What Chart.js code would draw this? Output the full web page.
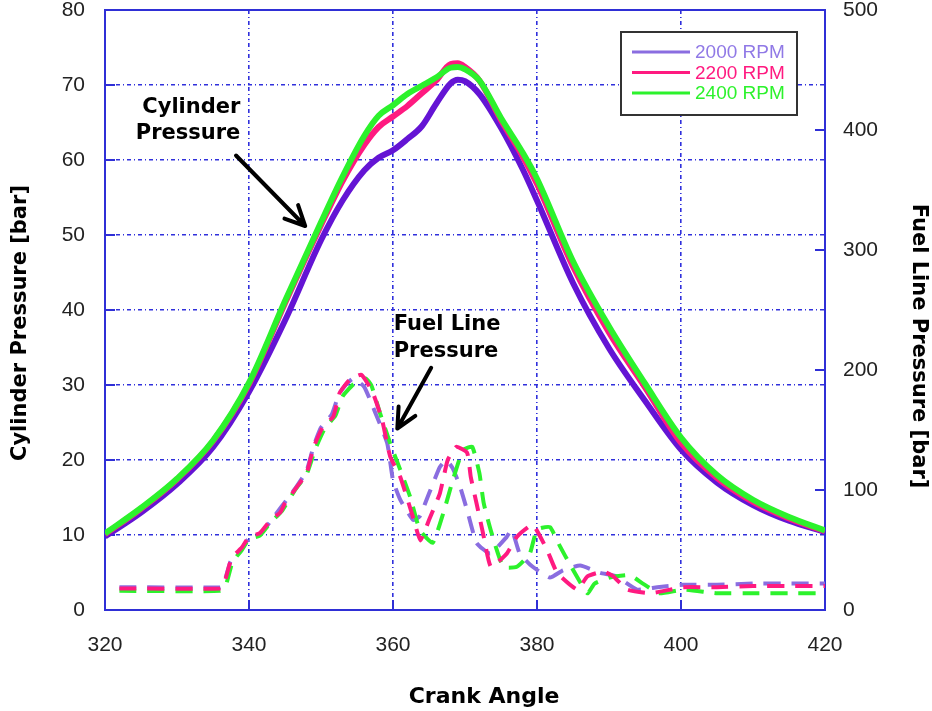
<!DOCTYPE html>
<html>
<head>
<meta charset="utf-8">
<script src="https://cdn.jsdelivr.net/npm/chart.js@4.4.0/dist/chart.umd.min.js"></script>
<style>
html, body { margin: 0; padding: 0; background: #fff; }
#chart { display: block; }
</style>
</head>
<body>
<canvas id="chart" width="932" height="711"></canvas>
<script>
// series names
const rpmLabels = ['2000 RPM', '2200 RPM', '2400 RPM'];

// cylinder pressure [bar] vs crank angle
const cylAngles = [320, 325, 330, 335, 340, 345, 350, 353, 356, 358, 360, 362, 364, 366, 368, 369, 370, 372, 375, 378, 380, 385, 390, 395, 400, 405, 410, 415, 420];
const cyl2000 = [9.8, 13.0, 16.8, 21.7, 29.1, 38.6, 49.3, 54.6, 58.6, 60.3, 61.3, 62.8, 64.5, 67.5, 70.2, 70.7, 70.5, 68.8, 64.3, 58.8, 54.6, 43.6, 34.9, 27.9, 21.4, 17.0, 14.0, 11.9, 10.4];
const cyl2200 = [10.1, 13.5, 17.4, 22.5, 30.1, 40.9, 51.3, 57.2, 62.0, 64.4, 65.8, 67.2, 68.9, 70.6, 72.8, 72.9, 72.4, 70.6, 65.3, 60.5, 56.8, 45.8, 37.0, 29.7, 22.3, 17.6, 14.4, 12.2, 10.5];
const cyl2400 = [10.2, 13.6, 17.5, 22.6, 30.3, 41.2, 51.7, 57.8, 63.2, 65.9, 67.3, 68.8, 69.9, 71.0, 72.3, 72.4, 72.1, 70.6, 65.6, 61.0, 57.5, 46.5, 37.8, 30.2, 23.0, 18.0, 14.7, 12.4, 10.6];

// fuel line pressure [bar] vs crank angle
const fuelAngles2000 = [322, 336, 336.6, 337.4, 338, 339, 340, 341.5, 343, 344.5, 346.5, 348, 349, 350, 351.5, 352.5, 353.5, 354.5, 356, 357.5, 359.2, 360, 361, 362.8, 363.7, 365, 366.5, 367.4, 368.3, 369.3, 370.3, 371.6, 373.5, 375.8, 376.5, 377.6, 379.4, 381.8, 383.6, 386, 388.8, 391, 393.9, 396.7, 400.3, 405, 410, 415, 420];
const fuel2000 = [19, 19, 24, 40, 45, 51, 60, 63, 74, 86, 102, 116, 137, 152, 163, 180, 188, 193, 186, 165, 139, 108, 92, 75, 78, 97, 119, 125, 118, 103, 83, 56, 47, 61, 67, 47, 36, 27, 33, 37, 31, 28, 17, 19, 21, 21, 22, 22, 22];

const fuelAngles2200 = [322, 336, 336.6, 337.4, 338, 339, 340, 341.5, 343, 344.3, 345, 346.7, 348, 349, 350.3, 351.7, 352.6, 354, 355.6, 357.2, 358.5, 359.6, 361, 362.8, 363.8, 365, 366.5, 367.6, 368.8, 370.3, 370.8, 371.6, 372.5, 373.6, 375.8, 377.2, 379.4, 381.4, 382.8, 385.6, 387, 389.2, 390.6, 392.5, 395.7, 398.5, 400.3, 405, 410, 415, 420];
const fuel2200 = [18, 18, 23, 40, 46, 52, 61, 64, 75, 81, 89, 103, 114, 136, 153, 161, 181, 192, 196, 181, 158, 128, 111, 77, 58, 75, 97, 125, 136, 131, 111, 89, 64, 36, 47, 61, 71, 50, 31, 17, 28, 32, 28, 17, 14, 17, 19, 19, 20, 20, 20];

const fuelAngles2400 = [322, 336, 336.8, 337.6, 338.2, 339, 340, 341.5, 343, 344.5, 346.5, 348, 349.2, 350.5, 352, 353, 354.5, 356.2, 357, 358.2, 359.6, 361, 362.4, 363.7, 365.5, 367, 368.3, 369.7, 371, 372, 372.6, 373.6, 375.3, 377.2, 379, 380, 381.8, 383.2, 384.2, 387, 388, 390.1, 392.9, 394.7, 397, 400.3, 405, 410, 415, 420];
const fuel2400 = [16, 16, 21, 38, 44, 50, 59, 62, 73, 82, 101, 113, 134, 151, 162, 178, 188, 193, 187, 164, 139, 117, 94, 67, 56, 81, 108, 133, 136, 114, 89, 66, 36, 36, 47, 67, 69, 53, 42, 14, 22, 27, 29, 22, 14, 17, 14, 14, 14, 14];

// colours
const cylColors = ['#6414d4', '#ff1a80', '#2cf22c'];
const fuelColors = ['#8a6de0', '#ff1a80', '#2cf22c'];
const gridBlue = '#3030dc';
const frameBlue = '#2f2fd6';

const toXY = (xs, ys) => xs.map((x, i) => ({ x: x, y: ys[i] }));

function text(ctx, str, x, y, font, color, align, rot) {
    ctx.save();
    ctx.translate(x, y);
    if (rot) ctx.rotate(rot);
    ctx.font = font;
    ctx.fillStyle = color;
    ctx.textAlign = align || 'center';
    ctx.textBaseline = 'middle';
    ctx.fillText(str, 0, 0);
    ctx.restore();
}

function arrow(ctx, x1, y1, x2, y2) {
    const ang = Math.atan2(y2 - y1, x2 - x1);
    const len = 22;
    ctx.save();
    ctx.strokeStyle = '#000';
    ctx.lineWidth = 4;
    ctx.lineCap = 'round';
    ctx.lineJoin = 'round';
    ctx.beginPath();
    ctx.moveTo(x1, y1);
    ctx.lineTo(x2, y2);
    ctx.moveTo(x2 - len * Math.cos(ang - 0.45), y2 - len * Math.sin(ang - 0.45));
    ctx.lineTo(x2, y2);
    ctx.lineTo(x2 - len * Math.cos(ang + 0.45), y2 - len * Math.sin(ang + 0.45));
    ctx.stroke();
    ctx.restore();
}

const titleFont = 'bold 21px "DejaVu Sans"';

const overlay = {
    id: 'overlay',
    beforeDatasetsDraw(chart) {
        const { ctx, chartArea: a, scales } = chart;
        ctx.save();
        ctx.strokeStyle = frameBlue;
        ctx.lineWidth = 2;
        ctx.beginPath();
        // inward tick marks
        for (let v = 10; v < 80; v += 10) {
            const y = scales.y.getPixelForValue(v);
            ctx.moveTo(a.left, y); ctx.lineTo(a.left + 10, y);
        }
        for (let v = 100; v < 500; v += 100) {
            const y = scales.y1.getPixelForValue(v);
            ctx.moveTo(a.right, y); ctx.lineTo(a.right - 10, y);
        }
        for (let v = 340; v < 420; v += 20) {
            const x = scales.x.getPixelForValue(v);
            ctx.moveTo(x, a.bottom); ctx.lineTo(x, a.bottom - 10);
        }
        ctx.stroke();
        ctx.strokeRect(a.left, a.top, a.width, a.height);
        ctx.restore();
    },
    afterDraw(chart) {
        const { ctx, chartArea: a, scales } = chart;
        const sx = v => scales.x.getPixelForValue(v);
        const sy = v => scales.y.getPixelForValue(v);

        // axis titles
        text(ctx, 'Cylinder Pressure [bar]', 21, 323, titleFont, '#000', 'center', -Math.PI / 2);
        text(ctx, 'Fuel Line Pressure [bar]', 918, 346, titleFont, '#000', 'center', Math.PI / 2);
        text(ctx, 'Crank Angle', 484, 697, 'bold 22px "DejaVu Sans"', '#000', 'center');

        // annotations
        text(ctx, 'Cylinder', sx(338.8), sy(67.0), titleFont, '#000', 'right');
        text(ctx, 'Pressure', sx(338.8), sy(63.5), titleFont, '#000', 'right');
        arrow(ctx, sx(338.2), sy(60.6), sx(347.8), sy(51.2));

        text(ctx, 'Fuel Line', sx(360.1), sy(38.0), titleFont, '#000', 'left');
        text(ctx, 'Pressure', sx(360.1), sy(34.5), titleFont, '#000', 'left');
        arrow(ctx, sx(365.3), sy(32.3), sx(360.6), sy(24.2));

        // legend box
        const lx = a.right - 204, ly = a.top + 22;
        ctx.save();
        ctx.fillStyle = '#fff';
        ctx.fillRect(lx, ly, 176, 83);
        ctx.strokeStyle = '#333';
        ctx.lineWidth = 2;
        ctx.strokeRect(lx, ly, 176, 83);
        rpmLabels.forEach((lab, i) => {
            const y = ly + 20 + i * 20.5;
            ctx.strokeStyle = i === 0 ? fuelColors[0] : cylColors[i];
            ctx.lineWidth = 3;
            ctx.beginPath();
            ctx.moveTo(lx + 11, y); ctx.lineTo(lx + 69, y);
            ctx.stroke();
            text(ctx, lab, lx + 74, y + 1, '19px "Liberation Sans", Arial', i === 0 ? '#9079e6' : cylColors[i], 'left');
        });
        ctx.restore();
    }
};

const tickFont = { family: '"Liberation Sans", Arial', size: 21 };

// no extra label overflow padding, so the plot area is exactly where it is in the picture
const noPad = s => { s.paddingTop = 0; s.paddingBottom = 0; s.paddingLeft = 0; s.paddingRight = 0; };

const datasets = [
    { label: rpmLabels[2], data: toXY(cylAngles, cyl2400), borderColor: cylColors[2], borderWidth: 6, yAxisID: 'y', order: 0, cubicInterpolationMode: 'monotone' },
    { label: rpmLabels[1], data: toXY(cylAngles, cyl2200), borderColor: cylColors[1], borderWidth: 6, yAxisID: 'y', order: 1, cubicInterpolationMode: 'monotone' },
    { label: rpmLabels[0], data: toXY(cylAngles, cyl2000), borderColor: cylColors[0], borderWidth: 6, yAxisID: 'y', order: 2, cubicInterpolationMode: 'monotone' },
    { label: rpmLabels[1] + ' fuel', data: toXY(fuelAngles2200, fuel2200), borderColor: fuelColors[1], borderWidth: 4, borderDash: [17, 11], yAxisID: 'y1', order: 3, tension: 0.15 },
    { label: rpmLabels[2] + ' fuel', data: toXY(fuelAngles2400, fuel2400), borderColor: fuelColors[2], borderWidth: 4, borderDash: [17, 11], yAxisID: 'y1', order: 4, tension: 0.15 },
    { label: rpmLabels[0] + ' fuel', data: toXY(fuelAngles2000, fuel2000), borderColor: fuelColors[0], borderWidth: 4, borderDash: [17, 11], yAxisID: 'y1', order: 5, tension: 0.15 }
];

const chart = new Chart(document.getElementById('chart').getContext('2d'), {
    type: 'line',
    data: { datasets: datasets },
    options: {
        responsive: false,
        animation: false,
        layout: { padding: { top: 10, left: 0, right: 0, bottom: 0 } },
        elements: { point: { radius: 0 }, line: { fill: false } },
        plugins: { legend: { display: false }, tooltip: { enabled: false } },
        scales: {
            x: {
                type: 'linear', min: 320, max: 420,
                ticks: { stepSize: 20, font: tickFont, color: '#222', padding: 23 },
                grid: { color: gridBlue, lineWidth: 1.6, drawTicks: false },
                border: { display: false, dash: [4, 3, 1, 3] },
                afterFit: s => { noPad(s); s.height = 101; }
            },
            y: {
                position: 'left', min: 0, max: 80,
                ticks: { stepSize: 10, font: tickFont, color: '#222', padding: 20 },
                grid: { color: gridBlue, lineWidth: 1.6, drawTicks: false },
                border: { display: false, dash: [4, 3, 1, 3] },
                afterFit: s => { noPad(s); s.width = 105; }
            },
            y1: {
                position: 'right', min: 0, max: 500,
                ticks: { stepSize: 100, font: tickFont, color: '#222', padding: 18 },
                grid: { drawOnChartArea: false, drawTicks: false },
                border: { display: false },
                afterFit: s => { noPad(s); s.width = 107; }
            }
        }
    },
    plugins: [overlay]
});
</script>
</body>
</html>
